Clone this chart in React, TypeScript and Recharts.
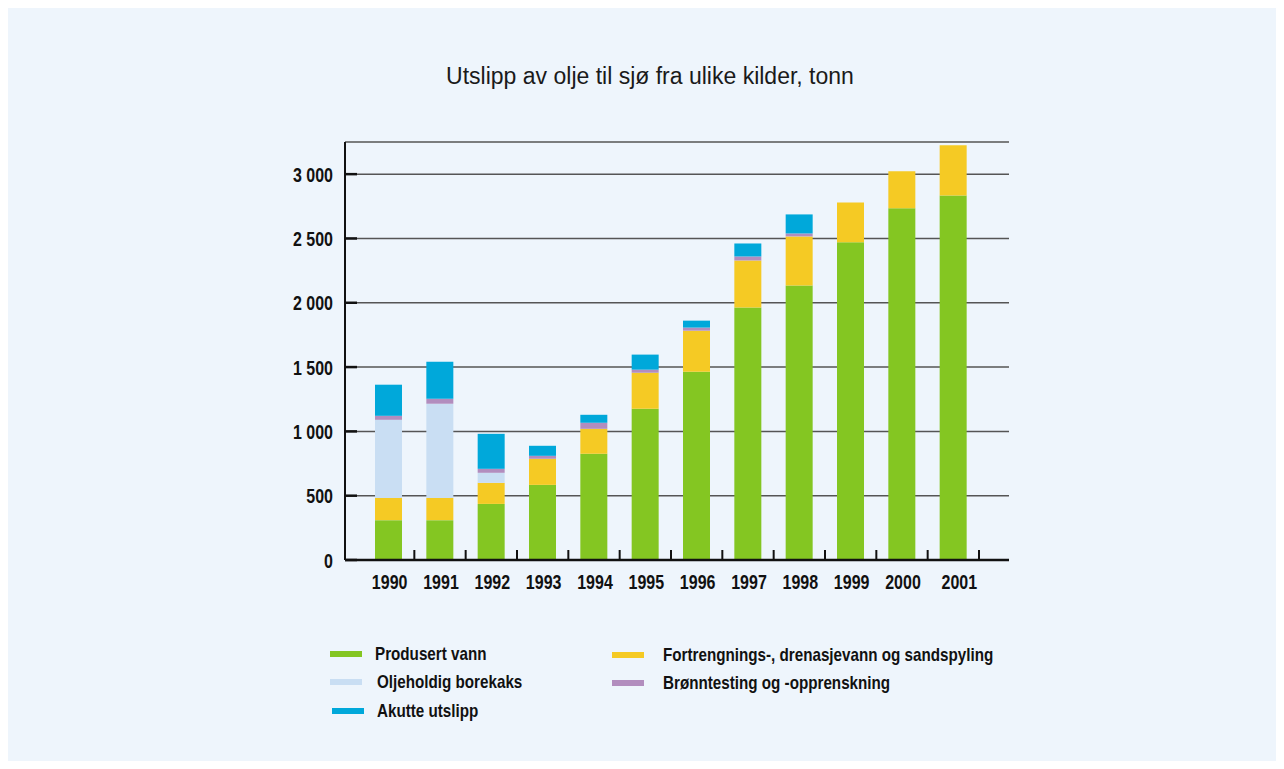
import { BarChart, Bar, XAxis, YAxis, CartesianGrid } from 'recharts'

// Utslipp av olje til sjø, tonn per år og kilde
const YEARS = ['1990', '1991', '1992', '1993', '1994', '1995', '1996', '1997', '1998', '1999', '2000', '2001']
const PRODUSERT_VANN = [310, 310, 436, 584, 826, 1176, 1464, 1963, 2134, 2470, 2735, 2835]
const FORTRENGNING = [173, 173, 164, 203, 194, 280, 319, 366, 382, 310, 287, 390]
const BOREKAKS = [607, 732, 78, 0, 0, 0, 0, 0, 0, 0, 0, 0]
const BRONNTESTING = [31, 39, 31, 23, 47, 24, 24, 31, 23, 0, 0, 0]
const AKUTTE = [242, 288, 272, 78, 62, 117, 54, 101, 148, 0, 0, 0]
const Y_TICKS = [0, 500, 1000, 1500, 2000, 2500, 3000]

// stacked bottom → top
const SERIES = [
  { key: 'produsert', name: 'Produsert vann', color: '#84C622', values: PRODUSERT_VANN },
  { key: 'fortrengning', name: 'Fortrengnings-, drenasjevann og sandspyling', color: '#F5CA24', values: FORTRENGNING },
  { key: 'borekaks', name: 'Oljeholdig borekaks', color: '#C9DEF3', values: BOREKAKS },
  { key: 'bronn', name: 'Brønntesting og -opprenskning', color: '#B28DBE', values: BRONNTESTING },
  { key: 'akutte', name: 'Akutte utslipp', color: '#00A8DA', values: AKUTTE },
]

const data = YEARS.map((year, i) => {
  const row: Record<string, string | number> = { year }
  SERIES.forEach((s) => { row[s.key] = s.values[i] })
  return row
})

// legend slots: [left, centre y, text offset]
const LEGEND_POS: Record<string, [number, number, number]> = {
  produsert: [322, 646, 45],
  borekaks: [322, 674, 47],
  akutte: [324, 703, 45],
  fortrengning: [604, 647, 51],
  bronn: [604, 675, 51],
}

const W = 1268
const H = 753
const AXIS_X = 337
const AXIS_Y = 552
const PLOT_RIGHT = 1001
const PAD_L = 18
const PAD_R = 30
const BAND = (PLOT_RIGHT - AXIS_X - PAD_L - PAD_R) / YEARS.length

// no narrow face installed, so squeeze the bold sans horizontally
const BOLD_FONT = "'Liberation Sans', Arial, sans-serif"
const NARROW = 0.8

const fmtThousands = (v: number) => String(v).replace(/\B(?=(\d{3})+(?!\d))/g, '\u00a0')

// eslint-disable-next-line @typescript-eslint/no-explicit-any
function YTick({ y, payload }: any) {
  return (
    <g>
      <line x1={AXIS_X} x2={AXIS_X + 12} y1={y} y2={y} stroke="#111" strokeWidth={2.5} />
      <text transform={`translate(${AXIS_X - 12},${y + 1}) scale(${NARROW},1)`} textAnchor="end"
        dominantBaseline="central" fontFamily={BOLD_FONT} fontWeight="bold" fontSize={20} fill="#111">
        {fmtThousands(payload.value)}
      </text>
    </g>
  )
}

// eslint-disable-next-line @typescript-eslint/no-explicit-any
function XTick({ x, payload }: any) {
  const edge = x + BAND / 2
  // last year label sits a little right of its bar
  const nudge = payload.value === '2001' ? 5 : 0
  return (
    <g>
      <line x1={edge} x2={edge} y1={AXIS_Y} y2={AXIS_Y - 10} stroke="#111" strokeWidth={2} />
      <text transform={`translate(${x + 1 + nudge},574) scale(${NARROW},1)`} textAnchor="middle"
        dominantBaseline="central" fontFamily={BOLD_FONT} fontWeight="bold" fontSize={20} fill="#111">
        {payload.value}
      </text>
    </g>
  )
}

export default function App() {
  return (
    <div style={{ position: 'relative', width: W, height: H, background: '#EEF5FC', fontFamily: BOLD_FONT }}>
      <div style={{
        position: 'absolute', top: 52, left: 8, width: W, textAlign: 'center',
        fontFamily: "'Liberation Sans', Arial, sans-serif", fontSize: 23, color: '#1a1a1a', lineHeight: '32px',
      }}>
        Utslipp av olje til sjø fra ulike kilder, tonn
      </div>
      <BarChart width={W} height={H} data={data} margin={{ top: 134, right: W - PLOT_RIGHT, left: 0, bottom: 0 }}>
        <CartesianGrid vertical={false} stroke="#555" strokeWidth={1.5} />
        <XAxis dataKey="year" height={H - AXIS_Y} padding={{ left: PAD_L, right: PAD_R }}
          axisLine={{ stroke: '#111', strokeWidth: 2.5 }} tickLine={false} tick={<XTick />} interval={0} />
        <YAxis width={AXIS_X} domain={[0, 3250]} ticks={Y_TICKS} allowDataOverflow
          axisLine={{ stroke: '#111', strokeWidth: 2 }} tickLine={false} tick={<YTick />} />
        {SERIES.map((s) => (
          <Bar key={s.key} dataKey={s.key} name={s.name} stackId="utslipp" fill={s.color}
            barSize={27} isAnimationActive={false} />
        ))}
      </BarChart>
      {SERIES.map((s) => {
        const [left, cy, off] = LEGEND_POS[s.key]
        return (
          <div key={s.key}>
            <div style={{ position: 'absolute', left, top: cy - 3, width: 32, height: 6, background: s.color }} />
            <div style={{
              position: 'absolute', left: left + off, top: cy - 12, lineHeight: '24px',
              fontWeight: 'bold', fontSize: 19, color: '#111', whiteSpace: 'nowrap',
              transform: 'scaleX(0.8)', transformOrigin: 'left center',
            }}>
              {s.name}
            </div>
          </div>
        )
      })}
    </div>
  )
}
